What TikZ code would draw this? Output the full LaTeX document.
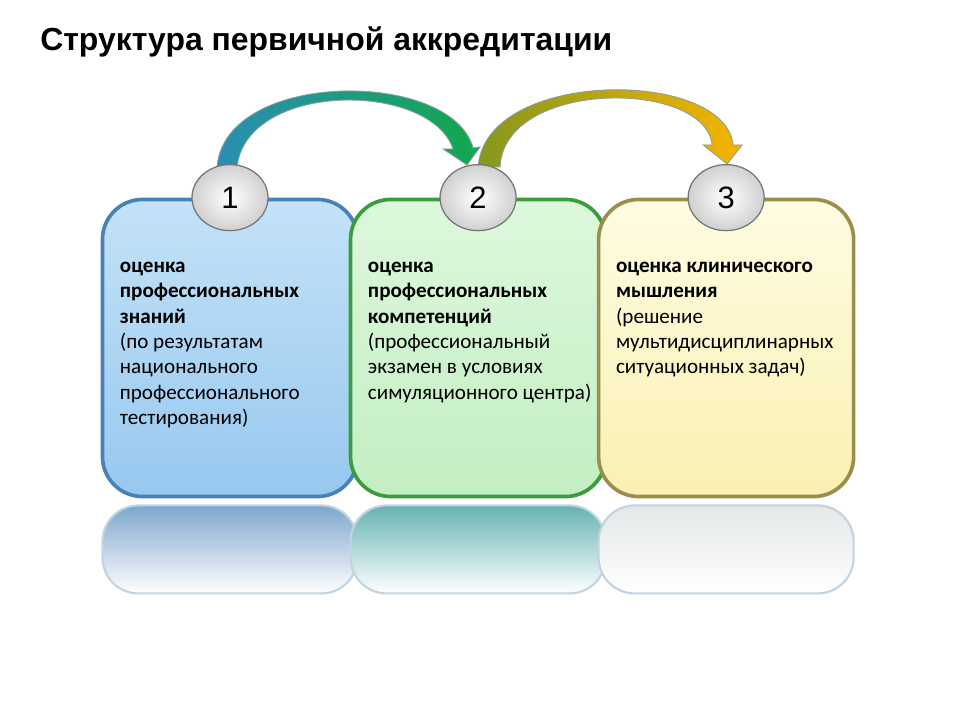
\documentclass[tikz,border=0pt]{standalone}
\usepackage{fontspec}
\setmainfont{Carlito}
\newfontfamily\arialfont{Liberation Sans}
\usepackage{tikz}
\usetikzlibrary{shapes,positioning,backgrounds}

\definecolor{bluetop}{HTML}{C4E2F8}
\definecolor{bluebot}{HTML}{97C8EF}
\definecolor{blueline}{HTML}{4681B8}
\definecolor{greentop}{HTML}{DDF8DC}
\definecolor{greenbot}{HTML}{C3EEC3}
\definecolor{greenline}{HTML}{3A9B3F}
\definecolor{yellowtop}{HTML}{FFFCE2}
\definecolor{yellowbot}{HTML}{FAF0B2}
\definecolor{yellowline}{HTML}{9B8E4B}
\definecolor{reflline}{HTML}{C2D3E2}
\definecolor{numgray}{HTML}{D0D0D0}
\definecolor{numline}{HTML}{777777}
\definecolor{arrline}{HTML}{8A9E9E}
\definecolor{arrblue}{HTML}{2A8EB2}
\definecolor{arrgreen}{HTML}{12A84C}
\definecolor{arrolive}{HTML}{86971F}
\definecolor{arrmid}{HTML}{5FA66A}
\definecolor{arrorange}{HTML}{F6B400}

\tikzstyle{blk}=[draw,rounded corners=1cm,minimum width=6.375cm,minimum height=7.425cm,
                line width=2.6pt]
\tikzstyle{blk1}=[blk,draw=blueline,top color=bluetop,bottom color=bluebot]
\tikzstyle{blk2}=[blk,draw=greenline,top color=greentop,bottom color=greenbot]
\tikzstyle{blk3}=[blk,draw=yellowline,top color=yellowtop,bottom color=yellowbot]
\tikzstyle{refl}=[draw=reflline,line width=1.5pt,rounded corners=0.9cm,
                minimum width=6.375cm,minimum height=2.2cm,bottom color=white]
\tikzstyle{num}=[ellipse,draw=numline,line width=0.9pt,minimum width=1.9cm,
                minimum height=1.65cm,inner sep=0,shading=radial,inner color=white,
                outer color=numgray,font=\arialfont\fontsize{22}{22}\selectfont]
\tikzstyle{txt}=[anchor=north west,align=left,inner sep=0,font=\fontsize{15}{18}\selectfont]
\tikzstyle{arr}=[draw=arrline,line width=0.6pt]

\begin{document}
\begin{tikzpicture}[x=0.025cm,y=-0.025cm,node distance=6.2cm]
\useasboundingbox (0,0) rectangle (960,720);

\node[anchor=base west,inner sep=0,font=\arialfont\bfseries\fontsize{22.7}{22.7}\selectfont]
  (title) at (40,51) {Структура первичной аккредитации};

% blocks
\node[blk1] (box1) at (230,348) {};
\node[blk2,right of=box1] (box2) {};
\node[blk3,right of=box2] (box3) {};

% reflections
\node[refl,top color=blueline!70,below=0.15cm of box1] (r1) {};
\node[refl,top color=teal!60,below=0.15cm of box2] (r2) {};
\node[refl,top color=reflline!80!yellowline!40,below=0.15cm of box3] (r3) {};

\node[num] (c1) at (box1.north) {1};
\node[num] (c2) at (box2.north) {2};
\node[num] (c3) at (box3.north) {3};

\node[txt] (t1) at ([shift={(19,57)}]box1.north west)
  {\strut\textbf{оценка}\\\textbf{профессиональных}\\\textbf{знаний}\\(по результатам\\национального\\профессионального\\тестирования)};
\node[txt] (t2) at ([shift={(19,57)}]box2.north west)
  {\strut\textbf{оценка}\\\textbf{профессиональных}\\\textbf{компетенций}\\(профессиональный\\экзамен в условиях\\симуляционного центра)};
\node[txt] (t3) at ([shift={(19,57)}]box3.north west)
  {\strut\textbf{оценка клинического}\\\textbf{мышления}\\(решение\\мультидисциплинарных\\ситуационных задач)};

% arrows 1->2, 2->3
\begin{pgfonlayer}{background}
\fill[white] (0,0) rectangle (960,720);
\path[arr,left color=arrblue,middle color=arrblue!50!arrgreen,right color=arrgreen]
  ([shift={(-13,3)}]c1.north) .. controls +(8,-98) and +(-21,-79) .. ([shift={(-5,-16)}]c2.north)
  -- ([shift={(2,-17)}]c2.north) -- ([shift={(-11,1)}]c2.north)
  -- ([shift={(-35,-15)}]c2.north) -- ([shift={(-25,-15)}]c2.north)
  .. controls +(-23,-68) and +(10,-86) .. ([shift={(7,3)}]c1.north) -- cycle;
\path[arr,left color=arrolive,middle color=arrmid,right color=arrorange]
  ([shift={(0,3)}]c2.north) .. controls +(7,-99) and +(-8,-77) .. ([shift={(7,-19)}]c3.north)
  -- ([shift={(16,-19)}]c3.north) -- ([shift={(1,0)}]c3.north)
  -- ([shift={(-23,-19)}]c3.north) -- ([shift={(-14,-19)}]c3.north)
  .. controls +(-7,-66) and +(4,-88) .. ([shift={(22,3)}]c2.north) -- cycle;
\end{pgfonlayer}

\end{tikzpicture}
\end{document}
